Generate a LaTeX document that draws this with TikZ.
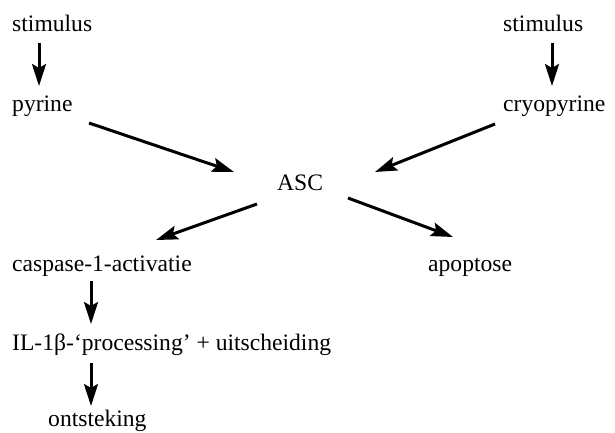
\documentclass[tikz,border=0pt]{standalone}
\usepackage{fontspec}
\setmainfont{Liberation Serif}
\usetikzlibrary{arrows.meta,calc}
\begin{document}
\begin{tikzpicture}[x=1pt,y=1pt,
  lbl/.style={inner sep=0pt,anchor=base west,font=\fontsize{23.6}{28}\selectfont},
  arr/.style={line width=3pt,-{Stealth[length=22pt,width=14pt,inset=4pt]}}]
\useasboundingbox (0,0) rectangle (615,-432);
\node[lbl] (s1) at (12,-31) {stimulus};
\node[lbl] (p1) at (12,-111) {pyrine};
\node[lbl] (s2) at (503,-31) {stimulus};
\node[lbl] (c2) at (503,-111) {cryopyrine};
\node[lbl] (asc) at (277,-190) {ASC};
\node[lbl] (casp) at (12,-271) {caspase-1-activatie};
\node[lbl] (apo) at (428,-271) {apoptose};
\node[lbl] (il) at (12,-350) {IL-1β-‘processing’ + uitscheiding};
\node[lbl] (ont) at (48,-426) {ontsteking};
\draw[arr] ($(s1.base west)+(27,-12)$) -- ($(p1.base west)+(27,25)$);
\draw[arr] ($(p1.base west)+(77,-12)$) -- ($(asc.base west)+(-43,18)$);
\draw[arr] ($(s2.base west)+(49,-12)$) -- ($(c2.base west)+(49,25)$);
\draw[arr] ($(c2.base west)+(-8,-13)$) -- ($(asc.base west)+(98,18)$);
\draw[arr] ($(asc.base west)+(-20,-14)$) -- ($(casp.base west)+(144,31)$);
\draw[arr] ($(asc.base west)+(71,-8)$) -- ($(apo.base west)+(25,34)$);
\draw[arr] ($(casp.base west)+(79,-10)$) -- ($(il.base west)+(79,26)$);
\draw[arr] ($(il.base west)+(79,-13)$) -- ($(ont.base west)+(43,20)$);
\end{tikzpicture}
\end{document}
